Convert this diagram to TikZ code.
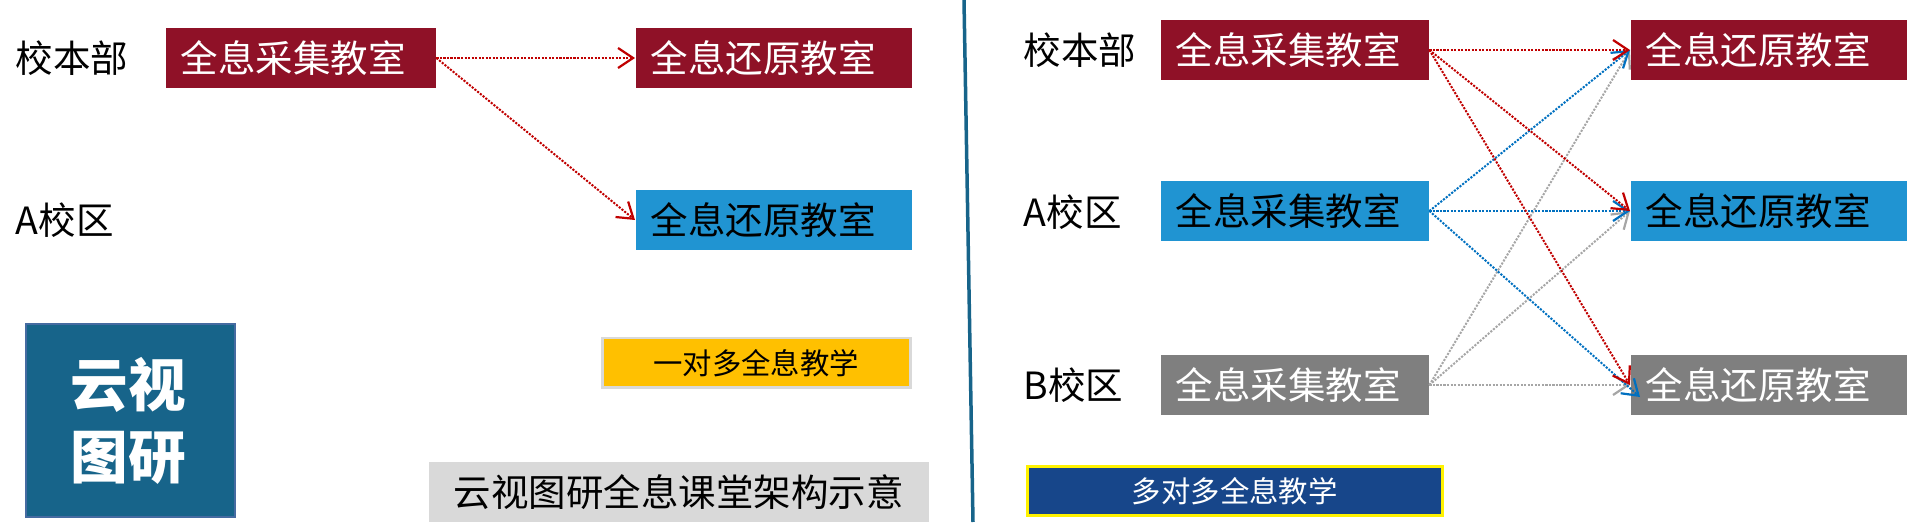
\documentclass[tikz,border=0pt]{standalone}
\usepackage{fontspec}
\setmainfont{Noto Sans CJK SC}
\usetikzlibrary{arrows.meta}

\definecolor{roomred}{HTML}{8F1127}
\definecolor{roomblue}{HTML}{2094D2}
\definecolor{roomgray}{HTML}{7F7F7F}
\definecolor{logoblue}{HTML}{17648A}
\definecolor{navyblue}{HTML}{17468A}
\definecolor{amber}{HTML}{FFC000}
\definecolor{linkred}{HTML}{C00000}
\definecolor{linkblue}{HTML}{0070C0}
\definecolor{linkgray}{HTML}{A6A6A6}

\tikzset{
    roomtext/.style={font=\fontsize{10.67}{12}\selectfont},
    roombox/.style={roomtext, anchor=west, minimum height=.6cm, inner ysep=0pt, inner xsep=.15cm, text width=#1-.30cm, align=left},
    sitelabel/.style={roomtext, anchor=west, inner sep=0pt},
    link/.style={line width=.02cm, dash pattern=on .6pt off .4pt, -{Straight Barb[length=.15cm, width=.2cm, line width=.022cm]}},
}

\begin{document}
\begin{tikzpicture}
        \useasboundingbox (0, 0) rectangle (19.07, 5.22);

        % left part
        \node[sitelabel] (mainleft) at (0.15, 4.64) {校本部};
        \node[sitelabel] (aleft) at (0.15, 3.02) {A校区};

        \node[roombox=2.70cm, fill=roomred, text=white] (capleft) at (1.65, 4.64) {全息采集教室};
        \node[roombox=2.76cm, fill=roomred, text=white] (showleftmain) at (6.35, 4.64) {全息还原教室};
        \node[roombox=2.76cm, fill=roomblue, text=black] (showlefta) at (6.35, 3.02) {全息还原教室};

        \node[anchor=north west, minimum width=2.09cm, minimum height=1.93cm, text width=1.20cm, inner xsep=.44cm, inner ysep=0pt, align=left, fill=logoblue, draw=navyblue!80, line width=.02cm, text=white, font=\fontsize{16.4}{20.5}\selectfont\bfseries] (logo) at (0.25, 1.99) {云视\\图研};

        \node[anchor=north west, minimum width=3.08cm, minimum height=.49cm, inner sep=0pt, fill=amber, draw=black!15, line width=.025cm, font=\fontsize{8.36}{10}\selectfont] (onemany) at (6.01, 1.85) {一对多全息教学};
        \node[anchor=north west, minimum width=5.00cm, minimum height=.60cm, inner sep=0pt, fill=black!15, roomtext] (caption) at (4.28, 0.61) {云视图研全息课堂架构示意};

        \draw [link, linkred] (capleft.east) -- (showleftmain.west);
        \draw [link, linkred] (capleft.east) -- (showlefta.west);

        % divider
        \coordinate (divtop) at (9.64, 5.22);
        \coordinate (divbot) at (9.73, 0);
        \draw [logoblue, line width=.035cm] (divtop) -- (divbot);

        % right part
        \node[sitelabel] (mainright) at (10.23, 4.72) {校本部};
        \node[sitelabel] (aright) at (10.23, 3.10) {A校区};
        \node[sitelabel] (bright) at (10.23, 1.37) {B校区};

        \node[roombox=2.68cm, fill=roomred, text=white] (capmain) at (11.60, 4.72) {全息采集教室};
        \node[roombox=2.68cm, fill=roomblue, text=black] (capa) at (11.60, 3.11) {全息采集教室};
        \node[roombox=2.68cm, fill=roomgray, text=white] (capb) at (11.60, 1.37) {全息采集教室};

        \node[roombox=2.76cm, fill=roomred, text=white] (showmain) at (16.30, 4.72) {全息还原教室};
        \node[roombox=2.76cm, fill=roomblue, text=black] (showa) at (16.30, 3.11) {全息还原教室};
        \node[roombox=2.76cm, fill=roomgray, text=white] (showb) at (16.30, 1.37) {全息还原教室};

        \node[anchor=north west, minimum width=4.15cm, minimum height=.49cm, inner sep=0pt, fill=navyblue, draw=yellow, line width=.025cm, text=white, font=\fontsize{8.36}{10}\selectfont] (manymany) at (10.26, 0.57) {多对多全息教学};

        \coordinate (bluetip) at (16.40, 1.25);

        \draw [link, linkgray] (capb.east) -- (showmain.west);
        \draw [link, linkgray] (capb.east) -- (showa.west);
        \draw [link, linkgray] (capb.east) -- (showb.west);

        \draw [link, linkblue] (capa.east) -- (showmain.west);
        \draw [link, linkblue] (capa.east) -- (showa.west);
        \draw [link, linkblue] (capa.east) -- (bluetip);

        \draw [link, linkred] (capmain.east) -- (showmain.west);
        \draw [link, linkred] (capmain.east) -- (showa.west);
        \draw [link, linkred] (capmain.east) -- (showb.west);
\end{tikzpicture}
\end{document}
